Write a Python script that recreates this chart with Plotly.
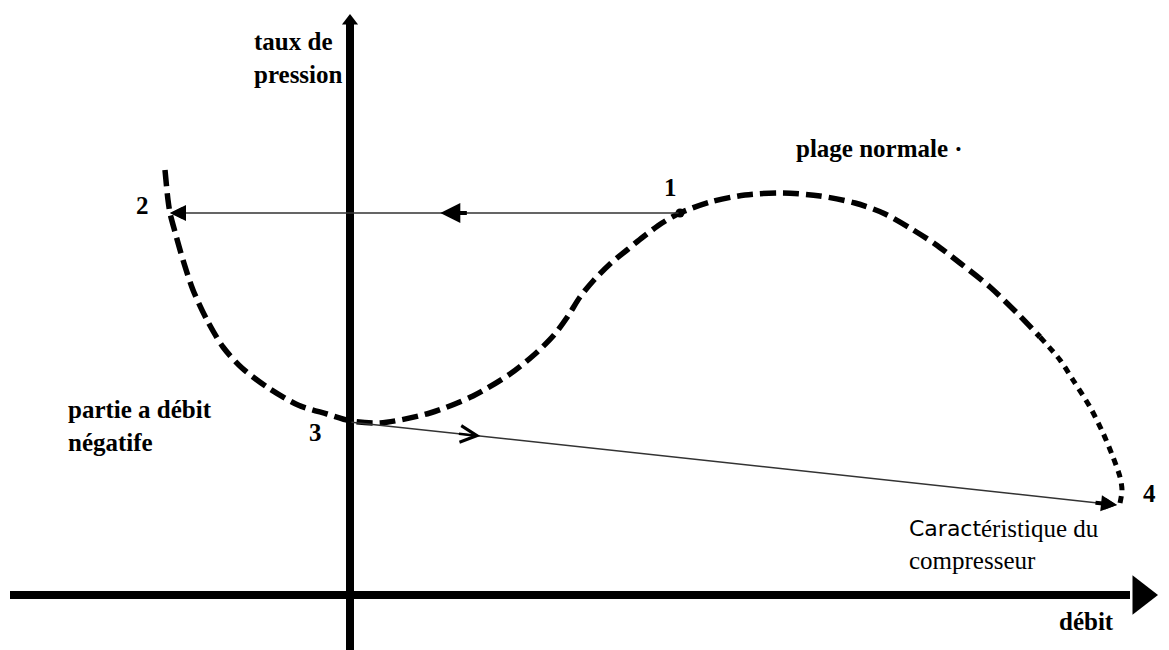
import plotly.graph_objects as go

# Compressor characteristic (debit, taux de pression), schematic units
curve_x = [-1.85, -1.82, -1.80, -1.75, -1.67, -1.57, -1.43, -1.27, -1.08, -0.83, -0.52, -0.23,
           0.01, 0.30, 0.80, 1.23, 1.60, 1.85, 2.04, 2.18, 2.30, 2.44, 2.60, 2.77, 2.93, 3.12,
           3.30, 3.60, 3.95, 4.33, 4.70, 5.05, 5.33, 5.60, 5.85, 6.10, 6.40, 6.67, 6.90,
           7.10, 7.23, 7.40, 7.53, 7.63, 7.70, 7.72, 7.70]
curve_y = [4.25, 3.95, 3.82, 3.63, 3.35, 3.05, 2.75, 2.48, 2.27, 2.08, 1.90, 1.81,
           1.74, 1.72, 1.82, 1.99, 2.21, 2.41, 2.60, 2.79, 2.98, 3.15, 3.31, 3.45, 3.58, 3.72,
           3.82, 3.93, 4.00, 4.02, 3.99, 3.92, 3.82, 3.67, 3.51, 3.32, 3.08, 2.82, 2.58,
           2.35, 2.15, 1.88, 1.62, 1.38, 1.18, 1.05, 0.92]
dotted_from = 38  # index where the curve turns into short dashes

# Cycle points 1..4
pt_names = ["1", "2", "3", "4"]
pt_x = [3.30, -1.80, 0.00, 7.67]
pt_y = [3.82, 3.82, 1.73, 0.90]

# Axes extents
axis_x = [-3.40, 8.15]
axis_y = [-0.55, 5.82]

fig = go.Figure()

# axes
fig.add_trace(go.Scatter(x=[axis_x[0], axis_x[1] - 0.35], y=[0, 0], mode="lines",
                         line=dict(color="black", width=8), hoverinfo="skip"))
fig.add_trace(go.Scatter(x=[axis_x[1] - 0.24], y=[0], mode="markers",
                         marker=dict(symbol="triangle-right", size=34, color="black"), hoverinfo="skip"))
fig.add_trace(go.Scatter(x=[0, 0], y=[axis_y[0], axis_y[1] - 0.1], mode="lines",
                         line=dict(color="black", width=8), hoverinfo="skip"))
fig.add_trace(go.Scatter(x=[0], y=[axis_y[1] - 0.08], mode="markers",
                         marker=dict(symbol="triangle-up", size=14, color="black"), hoverinfo="skip"))

# characteristic curve
fig.add_trace(go.Scatter(x=curve_x[:dotted_from + 1], y=curve_y[:dotted_from + 1], mode="lines",
                         line=dict(color="black", width=5.5, dash="16px,7px", shape="spline", smoothing=0.8),
                         hoverinfo="skip"))
fig.add_trace(go.Scatter(x=curve_x[dotted_from:], y=curve_y[dotted_from:], mode="lines",
                         line=dict(color="black", width=5, dash="7px,6px", shape="spline", smoothing=0.8),
                         hoverinfo="skip"))
fig.add_trace(go.Scatter(x=[pt_x[0]], y=[pt_y[0]], mode="markers",
                         marker=dict(symbol="circle", size=9, color="black"), hoverinfo="skip"))

# transition lines 1 -> 2 and 3 -> 4
mid_frac = {0: 0.47, 2: 0.17}
tail_len = {0: 0.055, 2: 0.03}
for a, b in [(0, 1), (2, 3)]:
    fig.add_annotation(x=pt_x[b], y=pt_y[b], ax=pt_x[a], ay=pt_y[a], xref="x", yref="y",
                       axref="x", ayref="y", showarrow=True, arrowhead=2, arrowsize=1.6,
                       arrowwidth=1.5, arrowcolor="#333", text="")
    # heavier head at the end point
    ex = pt_x[b] + 0.03 * (pt_x[a] - pt_x[b])
    ey = pt_y[b] + 0.03 * (pt_y[a] - pt_y[b])
    fig.add_annotation(x=pt_x[b], y=pt_y[b], ax=ex, ay=ey, xref="x", yref="y",
                       axref="x", ayref="y", showarrow=True, arrowhead=2, arrowsize=0.8,
                       arrowwidth=4, arrowcolor="black", text="")
    f_tip = mid_frac[a]
    f_tail = f_tip - tail_len[a]
    tx = pt_x[a] + f_tip * (pt_x[b] - pt_x[a])
    ty = pt_y[a] + f_tip * (pt_y[b] - pt_y[a])
    sx = pt_x[a] + f_tail * (pt_x[b] - pt_x[a])
    sy = pt_y[a] + f_tail * (pt_y[b] - pt_y[a])
    fig.add_annotation(x=tx, y=ty, ax=sx, ay=sy, xref="x", yref="y", axref="x", ayref="y",
                       showarrow=True, arrowhead=2 if a == 0 else 5, arrowsize=1.0 if a == 0 else 1.3,
                       arrowwidth=4 if a == 0 else 2.5, arrowcolor="black", text="")

serif = "Liberation Serif"
bold = dict(family=serif, size=25, color="black")
regular = dict(family=serif, size=25, color="black")

# point labels
lbl_pos = [(3.20, 4.08), (-2.08, 3.90), (-0.35, 1.63), (7.99, 1.02)]
for name, (lx, ly) in zip(pt_names, lbl_pos):
    fig.add_annotation(x=lx, y=ly, text="<b>%s</b>" % name, showarrow=False, font=bold,
                       xanchor="center", yanchor="middle")

fig.add_annotation(x=-0.98, y=5.37, text="<b>taux de<br>pression</b>", showarrow=False,
                   font=bold, xanchor="left", yanchor="middle", align="left")
fig.add_annotation(x=4.44, y=4.47, text="<b>plage normale ·</b>", showarrow=False,
                   font=bold, xanchor="left", yanchor="middle", align="left")
fig.add_annotation(x=-2.84, y=1.69, text="<b>partie a débit<br>négatife</b>", showarrow=False,
                   font=bold, xanchor="left", yanchor="middle", align="left")
# "Caractéristique du compresseur" (first letters in a sans face, as in the source)
fig.add_annotation(x=5.57, y=0.67, text="Caract", showarrow=False,
                   font=dict(family="DejaVu Sans", size=22, color="black"),
                   xanchor="left", yanchor="middle")
fig.add_annotation(x=6.29, y=0.67, text="éristique du", showarrow=False, font=regular,
                   xanchor="left", yanchor="middle")
fig.add_annotation(x=5.57, y=0.35, text="compresseur", showarrow=False, font=regular,
                   xanchor="left", yanchor="middle")
fig.add_annotation(x=7.36, y=-0.26, text="<b>débit</b>", showarrow=False, font=bold,
                   xanchor="center", yanchor="middle")

# ranges offset by the page's 8px body margin
fig.update_layout(width=1169, height=650, margin=dict(l=0, r=0, t=0, b=0),
                  paper_bgcolor="white", plot_bgcolor="white", showlegend=False,
                  xaxis=dict(range=[-3.42, 8.27], visible=False, fixedrange=True),
                  yaxis=dict(range=[-0.63, 5.87], visible=False, fixedrange=True))

fig.write_html("out.html")
